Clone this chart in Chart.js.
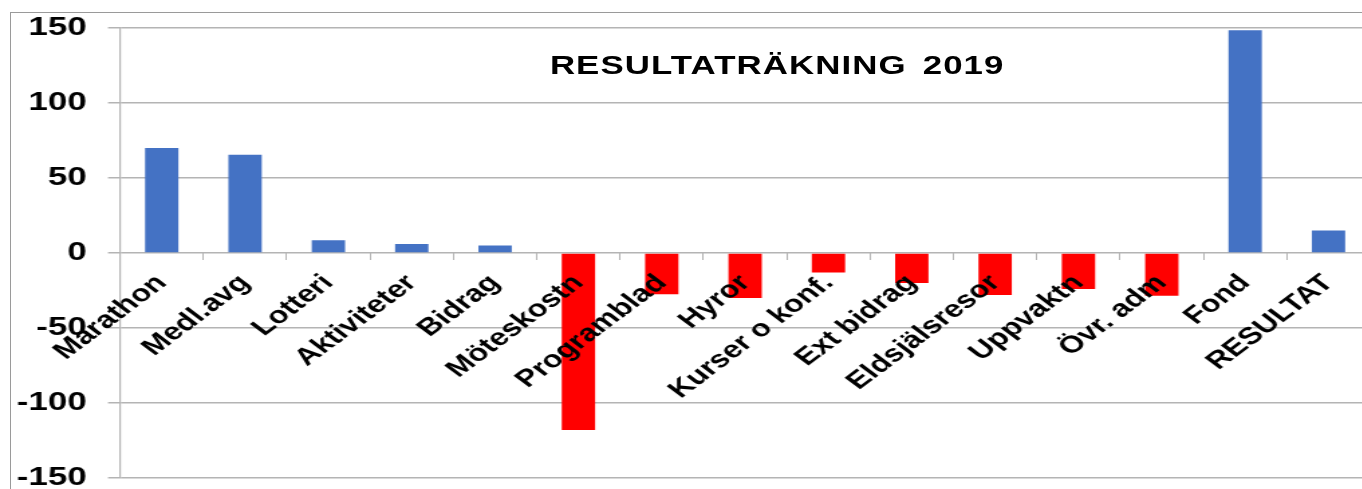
<!DOCTYPE html>
<html>
<head>
<meta charset="utf-8">
<script src="https://cdn.jsdelivr.net/npm/chart.js@4/dist/chart.umd.min.js"></script>
<style>
  html, body { margin: 0; padding: 0; background: #fff; overflow: hidden; width: 1362px; height: 489px; }
  #frame { position: absolute; left: 10px; top: 12px; width: 1400px; height: 500px;
           border-top: 1px solid #9a9a9a; border-left: 1px solid #9a9a9a; box-sizing: border-box; }
  #wrap { position: absolute; left: 0; top: 0; width: 1024px; height: 489px;
          transform: scaleX(1.34); transform-origin: 0 0; }
  #title { position: absolute; top: 50px; left: 68px; width: 1024px; text-align: center;
           font-family: "Liberation Sans", Arial, sans-serif; font-weight: bold; font-size: 26px;
           color: #000; word-spacing: 4px; letter-spacing: 0.8px; }
</style>
</head>
<body>
<div id="frame"></div>
<div id="wrap">
  <canvas id="c" width="1024" height="489"></canvas>
  <div id="title">RESULTATRÄKNING 2019</div>
</div>
<script>
const categories = ["Marathon", "Medl.avg", "Lotteri", "Aktiviteter", "Bidrag", "Möteskostn",
  "Programblad", "Hyror", "Kurser o konf.", "Ext bidrag", "Eldsjälsresor", "Uppvaktn",
  "Övr. adm", "Fond", "RESULTAT"];
const values = [70, 65.5, 8.5, 6, 5, -118, -27.5, -30, -13, -20, -28, -24, -28.5, 148.5, 15];
const yTicks = [-150, -100, -50, 0, 50, 100, 150];

const POS = "#4472C4", NEG = "#FF0000";
const gridColor = "#b4b4b4";
const FONT = "'Liberation Sans', Arial, sans-serif";

new Chart(document.getElementById("c"), {
  type: "bar",
  data: {
    labels: categories,
    datasets: [{
      data: values,
      backgroundColor: values.map(v => v >= 0 ? POS : NEG),
      borderWidth: 0,
      barPercentage: 0.4,
      categoryPercentage: 1.0
    }]
  },
  options: {
    responsive: false,
    animation: false,
    devicePixelRatio: 1,
    layout: { padding: { left: 0, right: 1.5, top: 28, bottom: 11 } },
    plugins: { legend: { display: false }, tooltip: { enabled: false }, title: { display: false } },
    scales: {
      x: {
        position: { y: 0 },
        offset: true,
        grid: { display: true, drawOnChartArea: false, drawTicks: true, tickLength: 7, color: gridColor, offset: true, lineWidth: 1, z: 1 },
        border: { display: false },
        ticks: {
          z: 2,
          autoSkip: false, minRotation: 45, maxRotation: 45, padding: 9,
          color: "#000", font: { family: FONT, size: 24, weight: "bold" }
        }
      },
      y: {
        min: -150, max: 150,
        afterBuildTicks: (s) => { s.ticks = yTicks.map(v => ({ value: v })); },
        afterFit: (s) => { s.width = 89.6; s.paddingTop = 0; s.paddingBottom = 0; },
        grid: { color: gridColor, lineWidth: 1.5, tickLength: 9, drawTicks: true },
        border: { display: true, color: gridColor, width: 1.2 },
        ticks: {
          padding: 16, color: "#000",
          font: { family: FONT, size: 26, weight: "bold" }
        }
      }
    }
  }
});
</script>
</body>
</html>
